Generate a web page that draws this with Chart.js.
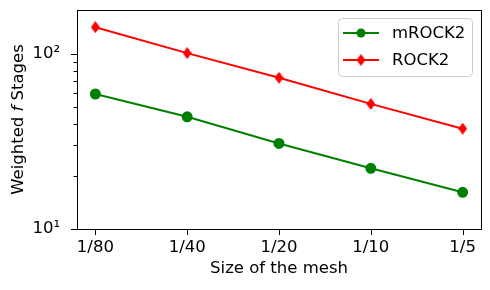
<!DOCTYPE html>
<html>
<head>
<meta charset="utf-8">
<script src="https://cdn.jsdelivr.net/npm/chart.js@4"></script>
<style>
  html, body { margin: 0; padding: 0; background: #fff; }
  #wrap { width: 490px; height: 290px; }
</style>
</head>
<body>
<div id="wrap"><canvas id="chart" width="490" height="290"></canvas></div>
<script>
// Data
const meshLabels = ['1/80', '1/40', '1/20', '1/10', '1/5'];
const mrock2Stages = [59, 43.7, 30.8, 22.2, 16.2];
const rock2Stages = [142, 101, 73, 51.8, 37.4];
const yTickValues = [10, 20, 30, 40, 50, 60, 70, 80, 90, 100];
const yMajorLabels = { 10: '10\u00b9', 100: '10\u00b2' };

const FONT_PX = 16.5;
Chart.defaults.font.family = "'DejaVu Sans', sans-serif";
Chart.defaults.font.size = FONT_PX;
Chart.defaults.color = '#000';

// thin diamond marker (matplotlib 'd')
function makeDiamond(color, w, h) {
    const c = document.createElement('canvas');
    c.width = w; c.height = h;
    const g = c.getContext('2d');
    g.fillStyle = color;
    g.beginPath();
    g.moveTo(w / 2, 0);
    g.lineTo(w, h / 2);
    g.lineTo(w / 2, h);
    g.lineTo(0, h / 2);
    g.closePath();
    g.fill();
    return c;
}
const redDiamond = makeDiamond('#ff0000', 9, 12);

const toPoints = arr => arr.map((v, i) => ({ x: i, y: v }));

// frame, tick marks, y title and legend
const decorations = {
    id: 'decorations',
    afterDraw(chart) {
        const { ctx, chartArea: a, scales: { x, y } } = chart;
        ctx.save();
        ctx.strokeStyle = '#000';
        ctx.lineWidth = 1;
        ctx.strokeRect(Math.round(a.left) + 0.5, Math.round(a.top) + 0.5,
            Math.round(a.right - a.left), Math.round(a.bottom - a.top));

        ctx.beginPath();
        yTickValues.forEach(v => {
            const py = Math.round(y.getPixelForValue(v)) + 0.5;
            const len = yMajorLabels[v] ? 6 : 3.5;
            ctx.moveTo(a.left - len, py);
            ctx.lineTo(a.left, py);
        });
        meshLabels.forEach((_, i) => {
            const px = Math.round(x.getPixelForValue(i)) + 0.5;
            ctx.moveTo(px, a.bottom);
            ctx.lineTo(px, a.bottom + 6);
        });
        ctx.stroke();

        // y title with italic f
        ctx.translate(19, (a.top + a.bottom) / 2);
        ctx.rotate(-Math.PI / 2);
        ctx.fillStyle = '#000';
        ctx.textBaseline = 'middle';
        const normal = FONT_PX + "px 'DejaVu Sans'";
        const italic = "italic " + FONT_PX + "px 'DejaVu Sans'";
        const parts = [['Weighted ', normal], ['f', italic], [' Stages', normal]];
        let total = 0;
        parts.forEach(p => { ctx.font = p[1]; total += ctx.measureText(p[0]).width; });
        let cx = -total / 2;
        parts.forEach(p => {
            ctx.font = p[1];
            ctx.fillText(p[0], cx, 0);
            cx += ctx.measureText(p[0]).width;
        });
        ctx.restore();

        // legend
        ctx.save();
        const bx = 338, by = 18, bw = 134, bh = 58, r = 4;
        ctx.fillStyle = 'rgba(255,255,255,0.8)';
        ctx.strokeStyle = '#cccccc';
        ctx.lineWidth = 1;
        ctx.beginPath();
        ctx.roundRect(bx + 0.5, by + 0.5, bw, bh, r);
        ctx.fill();
        ctx.stroke();
        ctx.font = FONT_PX + "px 'DejaVu Sans'";
        ctx.textBaseline = 'middle';
        chart.data.datasets.forEach((ds, i) => {
            const ry = 33 + i * 27;
            ctx.strokeStyle = ds.borderColor;
            ctx.lineWidth = 2;
            ctx.beginPath();
            ctx.moveTo(343, ry);
            ctx.lineTo(379, ry);
            ctx.stroke();
            if (ds.pointStyle === 'circle') {
                ctx.fillStyle = ds.pointBackgroundColor;
                ctx.beginPath();
                ctx.arc(361, ry, 4.5, 0, Math.PI * 2);
                ctx.fill();
            } else {
                ctx.drawImage(ds.pointStyle, 361 - 4.5, ry - 6);
            }
            ctx.fillStyle = '#000';
            ctx.fillText(ds.label, 392, ry + 1);
        });
        ctx.restore();
    }
};

new Chart(document.getElementById('chart'), {
    type: 'line',
    data: {
        datasets: [{
            label: 'mROCK2',
            data: toPoints(mrock2Stages),
            borderColor: '#008000',
            backgroundColor: '#008000',
            pointBackgroundColor: '#008000',
            pointBorderColor: '#008000',
            pointStyle: 'circle',
            pointRadius: 4.5,
            borderWidth: 2,
            tension: 0
        }, {
            label: 'ROCK2',
            data: toPoints(rock2Stages),
            borderColor: '#ff0000',
            backgroundColor: '#ff0000',
            pointBackgroundColor: '#ff0000',
            pointBorderColor: '#ff0000',
            pointStyle: redDiamond,
            borderWidth: 2,
            tension: 0
        }]
    },
    options: {
        responsive: false,
        animation: false,
        layout: { padding: { top: 10, right: 9, left: 0, bottom: 0 } },
        plugins: { legend: { display: false }, tooltip: { enabled: false } },
        scales: {
            x: {
                type: 'linear',
                min: -0.2,
                max: 4.2,
                afterBuildTicks: s => { s.ticks = meshLabels.map((_, i) => ({ value: i })); },
                afterFit: s => { s.height = 61; s.paddingLeft = 0; s.paddingRight = 0; },
                grid: { display: false },
                border: { display: false },
                ticks: {
                    padding: 1,
                    maxRotation: 0,
                    autoSkip: false,
                    callback: v => meshLabels[v]
                },
                title: {
                    display: true,
                    text: 'Size of the mesh',
                    padding: { top: 0, bottom: 11 }
                }
            },
            y: {
                type: 'logarithmic',
                min: 10,
                max: 178,
                afterBuildTicks: s => { s.ticks = yTickValues.map(v => ({ value: v })); },
                afterFit: s => { s.width = 77; s.paddingTop = 0; s.paddingBottom = 0; },
                grid: { display: false },
                border: { display: false },
                ticks: {
                    padding: 9,
                    autoSkip: false,
                    callback: v => yMajorLabels[v] || ''
                }
            }
        }
    },
    plugins: [decorations]
});
</script>
</body>
</html>
